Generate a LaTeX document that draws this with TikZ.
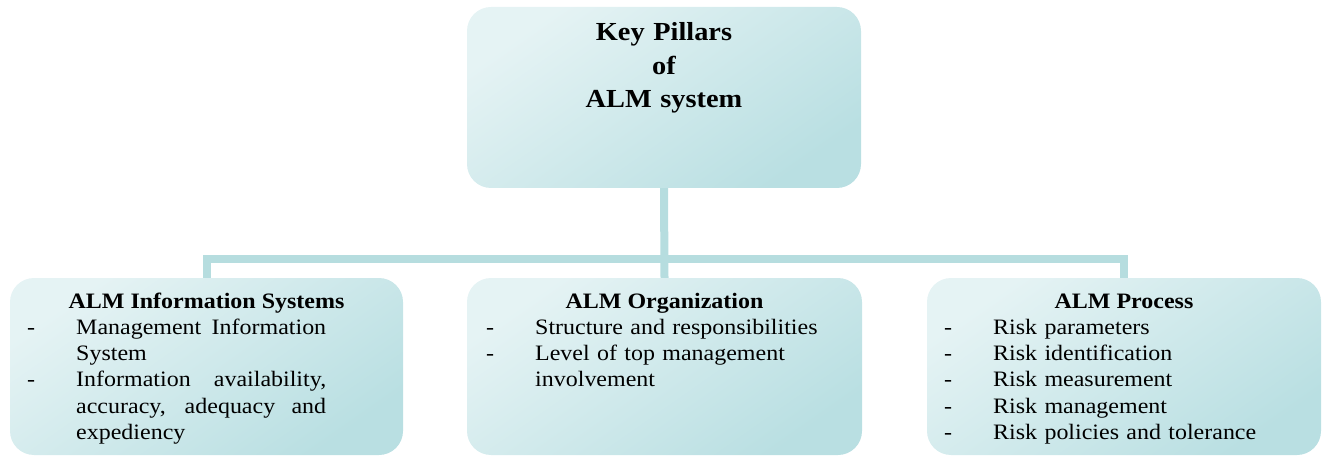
\documentclass[tikz,border=0pt]{standalone}
\usepackage{fontspec}
\setmainfont[FakeStretch=1.09]{Liberation Serif}
\definecolor{boxA}{HTML}{E5F3F4}
\definecolor{boxB}{HTML}{B9DFE2}
\definecolor{connC}{HTML}{B6DDDF}
\newcommand\pillaritem[1]{\noindent\hangindent=49pt\relax\hangafter=1\relax\makebox[49pt][l]{-}#1\par}
\newcommand\listsetup{\tolerance=10000\relax\hyphenpenalty=10000\relax\hbadness=10000\relax\parindent=0pt\relax}
\tikzset{
  pillar/.style={rounded corners=24pt, top color=boxA, bottom color=boxB, shading angle=35, draw=none, inner sep=0pt},
  conn/.style={draw=connC, line width=8pt},
  headtext/.style={font=\fontsize{26}{33.5}\selectfont\bfseries, text width=380pt, align=center, inner sep=0pt, anchor=base},
  subhead/.style={font=\fontsize{22}{26.4}\selectfont\bfseries, anchor=base, inner sep=0pt},
  itemlist/.style={font=\fontsize{22}{26.4}\selectfont, anchor=base west, inner sep=0pt}
}
\begin{document}
\begin{tikzpicture}[x=1pt,y=-1pt]
\useasboundingbox (0,0) rectangle (1323,457);
% boxes
\node[pillar, minimum width=394pt, minimum height=181pt] (top) at (664,97.5) {};
\node[pillar, minimum width=393pt, minimum height=177pt] (left) at (206.5,366.5) {};
\node[pillar, minimum width=395pt, minimum height=177pt] (mid) at (664.5,366.5) {};
\node[pillar, minimum width=394pt, minimum height=177pt] (right) at (1124,366.5) {};
% connectors
\coordinate (bar) at (664,259);
\draw[conn] (top.south) -- (mid.north);
\draw[conn] (left.north) -- (left.north |- bar) -- (right.north |- bar) -- (right.north);
% texts
\node[headtext] (toptitle) at (664,41) {Key Pillars\\of\\ALM system};
\node[subhead] (lefttitle) at (206.5,308) {ALM Information Systems};
\node[subhead] (midtitle) at (664.5,308) {ALM Organization};
\node[subhead] (righttitle) at (1124,308) {ALM Process};
\node[itemlist, text width=299pt, align=justify] (leftlist) at (27,334) {\listsetup
\pillaritem{Management Information System}%
\pillaritem{Information availability, accuracy, adequacy and expediency}};
\node[itemlist, text width=339pt, align=left] (midlist) at (486,334) {\listsetup
\pillaritem{Structure and responsibilities}%
\pillaritem{Level of top management involvement}};
\node[itemlist, text width=340pt, align=left] (rightlist) at (944,334) {\listsetup
\pillaritem{Risk parameters}%
\pillaritem{Risk identification}%
\pillaritem{Risk measurement}%
\pillaritem{Risk management}%
\pillaritem{Risk policies and tolerance}};
\end{tikzpicture}
\end{document}
